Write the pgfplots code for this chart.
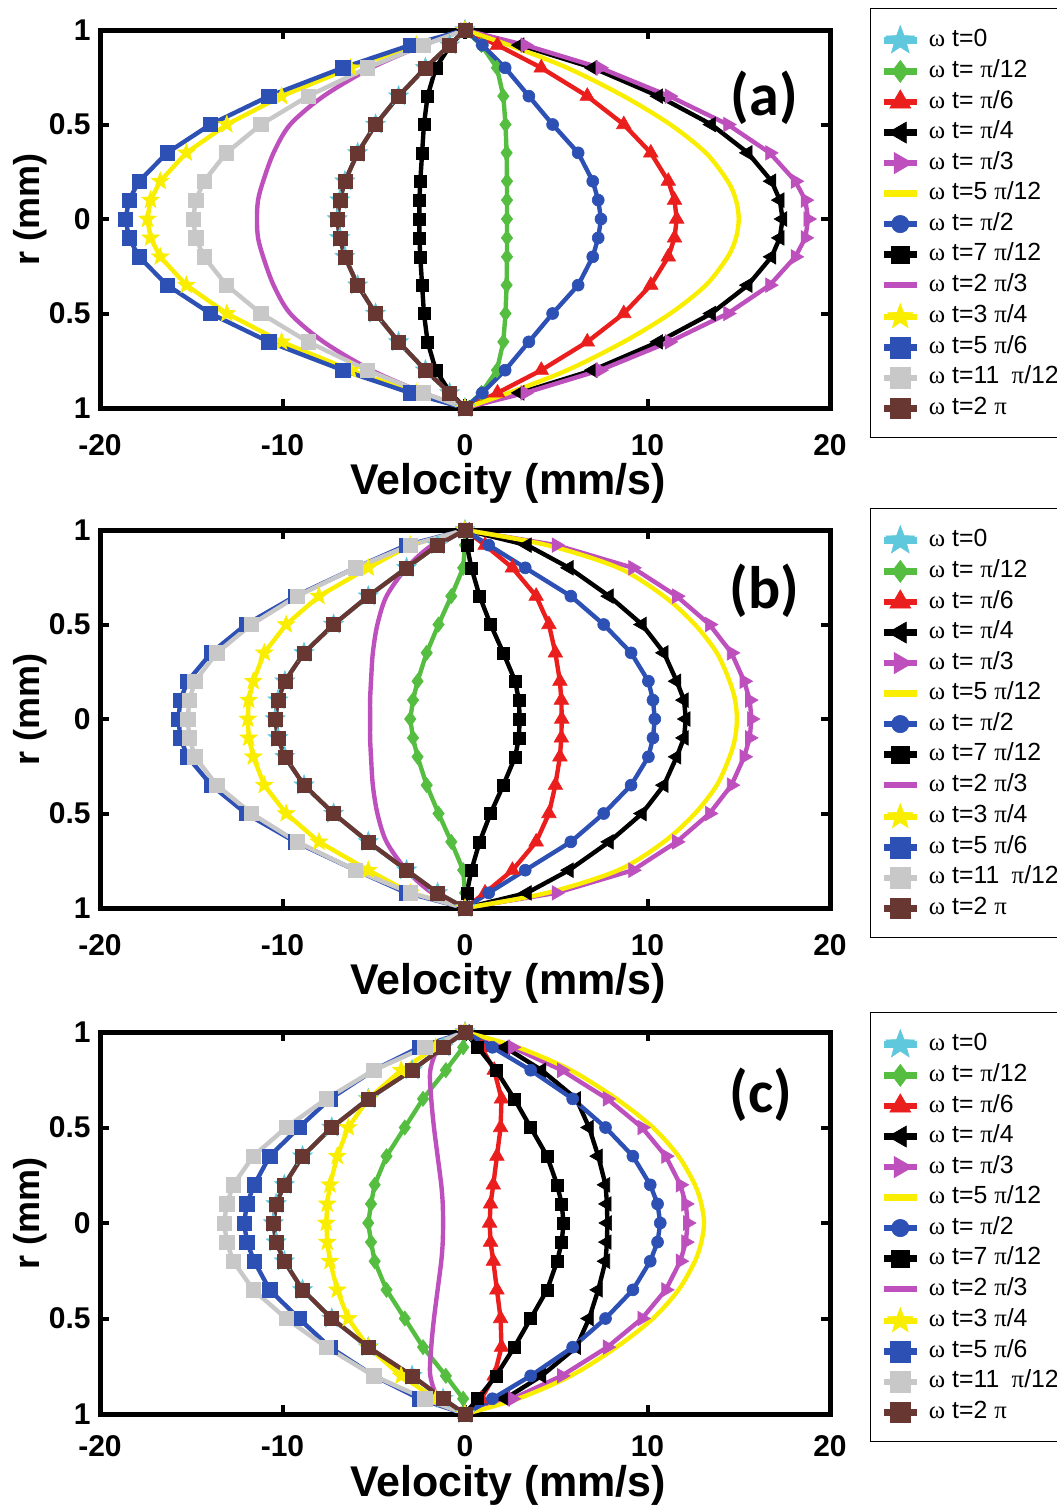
\documentclass[border=0pt]{standalone}
\usepackage{fontspec}
\setmainfont{Liberation Sans}
\newfontfamily\grk{Liberation Serif}
\newfontfamily\carl{Carlito}
\usepackage{pgfplots}
\pgfplotsset{compat=1.18}
\usepackage{pgfplotstable}
\usetikzlibrary{plotmarks}

\definecolor{cS}{RGB}{95,200,220}
\definecolor{gS}{RGB}{85,190,65}
\definecolor{rS}{RGB}{235,30,30}
\definecolor{mS}{RGB}{190,80,190}
\definecolor{yS}{RGB}{250,238,0}
\definecolor{bS}{RGB}{45,80,180}
\definecolor{grS}{RGB}{200,200,200}
\definecolor{brS}{RGB}{105,55,50}

\pgfdeclareplotmark{pstar}{%
 \pgfpathmoveto{\pgfpointpolar{90}{\pgfplotmarksize}}%
 \pgfpathlineto{\pgfpointpolar{126}{0.42\pgfplotmarksize}}%
 \pgfpathlineto{\pgfpointpolar{162}{\pgfplotmarksize}}%
 \pgfpathlineto{\pgfpointpolar{198}{0.42\pgfplotmarksize}}%
 \pgfpathlineto{\pgfpointpolar{234}{\pgfplotmarksize}}%
 \pgfpathlineto{\pgfpointpolar{270}{0.42\pgfplotmarksize}}%
 \pgfpathlineto{\pgfpointpolar{306}{\pgfplotmarksize}}%
 \pgfpathlineto{\pgfpointpolar{342}{0.42\pgfplotmarksize}}%
 \pgfpathlineto{\pgfpointpolar{18}{\pgfplotmarksize}}%
 \pgfpathlineto{\pgfpointpolar{54}{0.42\pgfplotmarksize}}%
 \pgfpathclose
 \pgfusepathqfillstroke
}

\pgfplotstableread{
r s0 s1 s2 s3 s4 s5 s6 s7 s8 s9 s10 s11 s12
1 0 0 0 0 0 0 0 0 0 0 0 0 0
0.92 -0.84 0.9 1.78 3.0 3.3 2.4 0.95 -0.8 -2.28 -2.67 -3.0 -2.29 -0.84
0.8 -2.17 1.75 4.18 7.0 7.4 5.6 2.2 -1.6 -5.13 -6.26 -6.7 -5.36 -2.17
0.65 -3.64 2.1 6.7 10.6 11.2 8.7 3.5 -2.05 -7.75 -10.05 -10.74 -8.6 -3.64
0.5 -4.9 2.22 8.7 13.5 14.4 11.25 4.8 -2.25 -9.58 -13.05 -13.95 -11.18 -4.9
0.35 -5.88 2.28 10.18 15.5 16.7 13.2 6.2 -2.35 -10.49 -15.27 -16.32 -13.07 -5.88
0.2 -6.58 2.3 11.14 16.8 18.1 14.4 7.0 -2.45 -11.06 -16.7 -17.86 -14.3 -6.58
0.1 -6.86 2.3 11.48 17.25 18.65 14.85 7.3 -2.5 -11.34 -17.23 -18.41 -14.75 -6.86
0 -7.0 2.3 11.6 17.4 18.8 15.0 7.45 -2.5 -11.4 -17.4 -18.6 -14.9 -7.0
-0.1 -6.86 2.3 11.48 17.25 18.65 14.85 7.3 -2.5 -11.34 -17.23 -18.41 -14.75 -6.86
-0.2 -6.58 2.3 11.14 16.8 18.1 14.4 7.0 -2.45 -11.06 -16.7 -17.86 -14.3 -6.58
-0.35 -5.88 2.28 10.18 15.5 16.7 13.2 6.2 -2.35 -10.49 -15.27 -16.32 -13.07 -5.88
-0.5 -4.9 2.22 8.7 13.5 14.4 11.25 4.8 -2.25 -9.58 -13.05 -13.95 -11.18 -4.9
-0.65 -3.64 2.1 6.7 10.6 11.2 8.7 3.5 -2.05 -7.75 -10.05 -10.74 -8.6 -3.64
-0.8 -2.17 1.75 4.18 7.0 7.4 5.6 2.2 -1.6 -5.13 -6.26 -6.7 -5.36 -2.17
-0.92 -0.84 0.9 1.78 3.0 3.3 2.4 0.95 -0.8 -2.28 -2.67 -3.0 -2.29 -0.84
-1 0 0 0 0 0 0 0 0 0 0 0 0 0
}\tabA

\pgfplotstableread{
r s0 s1 s2 s3 s4 s5 s6 s7 s8 s9 s10 s11 s12
1 0 0 0 0 0 0 0 0 0 0 0 0 0
0.92 -1.5 0.0 1.1 3.4 5.0 4.5 1.3 0.1 -1.8 -3.0 -3.2 -3.0 -1.5
0.8 -3.2 -0.1 2.6 5.7 9.2 8.4 3.3 0.35 -3.2 -5.3 -6.0 -6.0 -3.2
0.65 -5.3 -0.75 3.9 7.9 11.6 10.9 5.8 0.8 -4.3 -8.0 -9.3 -9.2 -5.3
0.5 -7.2 -1.45 4.6 9.7 13.4 12.6 7.6 1.4 -4.8 -9.8 -12.0 -11.7 -7.2
0.35 -8.82 -2.1 4.95 10.9 14.6 13.8 9.1 2.1 -5.05 -11.0 -13.9 -13.6 -8.82
0.2 -9.87 -2.6 5.2 11.6 15.3 14.5 10.05 2.75 -5.15 -11.6 -15.2 -14.8 -9.87
0.1 -10.25 -2.85 5.28 12.0 15.6 14.8 10.3 2.95 -5.2 -11.85 -15.6 -15.1 -10.25
0 -10.4 -3.0 5.3 12.1 15.7 14.9 10.4 3.0 -5.2 -11.9 -15.7 -15.2 -10.4
-0.1 -10.25 -2.85 5.28 12.0 15.6 14.8 10.3 2.95 -5.2 -11.85 -15.6 -15.1 -10.25
-0.2 -9.87 -2.6 5.2 11.6 15.3 14.5 10.05 2.75 -5.15 -11.6 -15.2 -14.8 -9.87
-0.35 -8.82 -2.1 4.95 10.9 14.6 13.8 9.1 2.1 -5.05 -11.0 -13.9 -13.6 -8.82
-0.5 -7.2 -1.45 4.6 9.7 13.4 12.6 7.6 1.4 -4.8 -9.8 -12.0 -11.7 -7.2
-0.65 -5.3 -0.75 3.9 7.9 11.6 10.9 5.8 0.8 -4.3 -8.0 -9.3 -9.2 -5.3
-0.8 -3.2 -0.1 2.6 5.7 9.2 8.4 3.3 0.35 -3.2 -5.3 -6.0 -6.0 -3.2
-0.92 -1.5 0.0 1.1 3.4 5.0 4.5 1.3 0.1 -1.8 -3.0 -3.2 -3.0 -1.5
-1 0 0 0 0 0 0 0 0 0 0 0 0 0
}\tabB

\pgfplotstableread{
r s0 s1 s2 s3 s4 s5 s6 s7 s8 s9 s10 s11 s12
1 0 0 0 0 0 0 0 0 0 0 0 0 0
0.92 -1.2 -0.1 0.9 2.2 2.6 2.9 1.5 0.7 -1.4 -1.6 -2.5 -2.2 -1.2
0.8 -2.9 -1.05 1.6 4.2 5.3 5.8 3.6 1.7 -1.9 -3.5 -5.0 -5.0 -2.9
0.65 -5.3 -2.3 2.0 6.1 7.8 8.3 5.9 2.7 -1.85 -5.3 -7.4 -7.6 -5.3
0.5 -7.3 -3.3 1.95 6.8 9.7 10.3 7.7 3.6 -1.7 -6.4 -9.1 -9.8 -7.3
0.35 -8.9 -4.3 1.75 7.3 11.0 11.7 9.2 4.5 -1.5 -7.0 -10.7 -11.6 -8.9
0.2 -9.9 -4.95 1.55 7.7 11.8 12.6 10.15 5.05 -1.3 -7.4 -11.55 -12.7 -9.9
0.1 -10.35 -5.15 1.4 7.78 12.1 12.95 10.55 5.3 -1.22 -7.55 -11.95 -13.05 -10.35
0 -10.5 -5.3 1.35 7.8 12.2 13.1 10.7 5.4 -1.2 -7.6 -12.1 -13.2 -10.5
-0.1 -10.35 -5.15 1.4 7.78 12.1 12.95 10.55 5.3 -1.22 -7.55 -11.95 -13.05 -10.35
-0.2 -9.9 -4.95 1.55 7.7 11.8 12.6 10.15 5.05 -1.3 -7.4 -11.55 -12.7 -9.9
-0.35 -8.9 -4.3 1.75 7.3 11.0 11.7 9.2 4.5 -1.5 -7.0 -10.7 -11.6 -8.9
-0.5 -7.3 -3.3 1.95 6.8 9.7 10.3 7.7 3.6 -1.7 -6.4 -9.1 -9.8 -7.3
-0.65 -5.3 -2.3 2.0 6.1 7.8 8.3 5.9 2.7 -1.85 -5.3 -7.4 -7.6 -5.3
-0.8 -2.9 -1.05 1.6 4.2 5.3 5.8 3.6 1.7 -1.9 -3.5 -5.0 -5.0 -2.9
-0.92 -1.2 -0.1 0.9 2.2 2.6 2.9 1.5 0.7 -1.4 -1.6 -2.5 -2.2 -1.2
-1 0 0 0 0 0 0 0 0 0 0 0 0 0
}\tabC

\newcommand{\w}{{\grk ω}}
\newcommand{\p}{{\grk π}}

\pgfplotsset{
 st0/.style={color=cS, mark=pstar, mark size=5.2pt, mark options={line width=0.3pt}},
 st1/.style={color=gS, mark=diamond*, mark size=3.8pt, mark options={line width=0.3pt}},
 st2/.style={color=rS, mark=triangle*, mark size=4.2pt, mark options={line width=0.3pt}},
 st3/.style={color=black, mark=triangle*, mark size=4.2pt, mark options={rotate=90,line width=0.3pt}},
 st4/.style={color=mS, mark=triangle*, mark size=4.2pt, mark options={rotate=-90,line width=0.3pt}},
 st5/.style={color=yS, no markers, smooth},
 st6/.style={color=bS, mark=*, mark size=3pt, mark options={line width=0.3pt}},
 st7/.style={color=black, mark=square*, mark size=3pt, mark options={line width=0.3pt}},
 st8/.style={color=mS, no markers, smooth},
 st9/.style={color=yS, mark=pstar, mark size=4.6pt, mark options={line width=0.3pt}},
 st10/.style={color=bS, mark=square*, mark size=3.6pt, mark options={line width=0.3pt}},
 st11/.style={color=grS, mark=square*, mark size=3.6pt, mark options={line width=0.3pt}},
 st12/.style={color=brS, mark=square*, mark size=3.5pt, mark options={line width=0.3pt}},
 panel/.style={
  scale only axis, width=365pt, height=189pt,
  xmin=-20, xmax=20, ymin=-1, ymax=1,
  xtick={-20,-10,0,10,20}, xticklabels={-20,-10,0,10,20},
  ytick={-1,-0.5,0,0.5,1}, yticklabels={1,0.5,0,0.5,1},
  tick align=inside, major tick length=4.5pt,
  tick style={line width=2pt, black},
  axis line style={line width=2.5pt},
  clip=false,
  every axis plot/.append style={line width=2.2pt},
  ticklabel style={font=\fontsize{15}{15}\selectfont\bfseries},
  xticklabel style={anchor=base, inner sep=0pt, yshift=-23.5pt},
  yticklabel style={anchor=east, inner sep=0pt, xshift=-4.5pt},
  xlabel={Velocity (mm/s)}, ylabel={r (mm)},
  xlabel style={at={(axis description cs:0.559,0)}, anchor=base, inner sep=0pt, yshift=-43pt, font=\fontsize{21.5}{22}\selectfont\bfseries},
  ylabel style={at={(axis description cs:-0.0959,0.524)}, anchor=center, inner sep=0pt, font=\fontsize{18}{18}\selectfont\bfseries},
  legend cell align=left,
  legend style={at={(1.0548,1.0582)}, anchor=north west, draw=black, line width=0.6pt, fill=white,
    font=\fontsize{12.4}{14}\selectfont, inner xsep=5pt, inner ysep=8.5pt, row sep=3.25pt,
    nodes={inner sep=0pt, text height=9pt, text depth=3pt},
    /tikz/every odd column/.append style={column sep=4.5pt}},
  legend image code/.code={\draw[mark repeat=2,mark phase=2,#1,line width=3.2pt,/tikz/every mark/.append style={scale=1.45}] plot coordinates {(0pt,0pt) (8.25pt,0pt) (16.5pt,0pt)};},
 }
}

\newcommand{\allplots}[1]{%
 \addplot[st0] table[x=s0,y=r]{#1}; \addlegendentry{\w\ t=0}
 \addplot[st1] table[x=s1,y=r]{#1}; \addlegendentry{\w\ t= \p/12}
 \addplot[st2] table[x=s2,y=r]{#1}; \addlegendentry{\w\ t= \p/6}
 \addplot[st3] table[x=s3,y=r]{#1}; \addlegendentry{\w\ t= \p/4}
 \addplot[st4] table[x=s4,y=r]{#1}; \addlegendentry{\w\ t= \p/3}
 \addplot[st5] table[x=s5,y=r]{#1}; \addlegendentry{\w\ t=5 \p/12}
 \addplot[st6] table[x=s6,y=r]{#1}; \addlegendentry{\w\ t= \p/2}
 \addplot[st7] table[x=s7,y=r]{#1}; \addlegendentry{\w\ t=7 \p/12}
 \addplot[st8] table[x=s8,y=r]{#1}; \addlegendentry{\w\ t=2 \p/3}
 \addplot[st9] table[x=s9,y=r]{#1}; \addlegendentry{\w\ t=3 \p/4}
 \addplot[st10] table[x=s10,y=r]{#1}; \addlegendentry{\w\ t=5 \p/6}
 \addplot[st11] table[x=s11,y=r]{#1}; \addlegendentry{\w\ t=11\enspace\p/12}
 \addplot[st12] table[x=s12,y=r]{#1}; \addlegendentry{\w\ t=2 \p}
}

\begin{document}
\begin{tikzpicture}
\path[use as bounding box] (0,0) rectangle (528pt,-753pt);

\begin{axis}[panel, at={(50pt,-15pt)}, anchor=north west]
\allplots{\tabA}
\node[font=\carl\bfseries\fontsize{30}{30}\selectfont] at (axis cs:16.4,0.64) {(a)};
\end{axis}

\begin{axis}[panel, at={(50pt,-265pt)}, anchor=north west]
\allplots{\tabB}
\node[font=\carl\bfseries\fontsize{30}{30}\selectfont] at (axis cs:16.4,0.68) {(b)};
\end{axis}

\begin{axis}[panel, height=191pt, at={(50pt,-516pt)}, anchor=north west,
  legend style={at={(1.0548,1.0524)}},
  xticklabel style={yshift=2.5pt},
  xlabel style={yshift=2pt}]
\allplots{\tabC}
\node[font=\carl\bfseries\fontsize{30}{30}\selectfont] at (axis cs:16.2,0.67) {(c)};
\end{axis}
\end{tikzpicture}
\end{document}
